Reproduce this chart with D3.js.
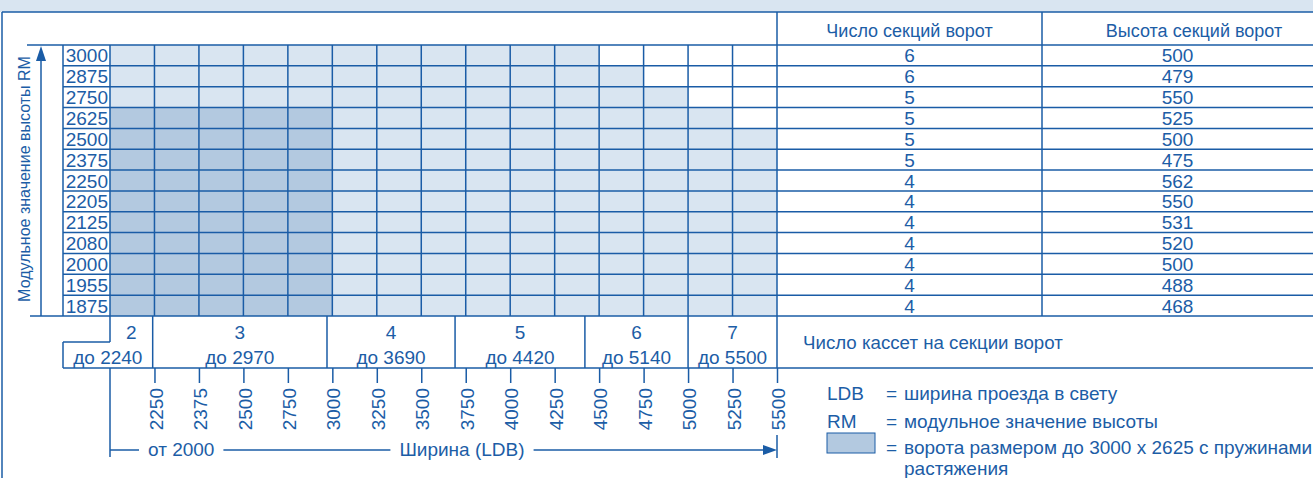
<!DOCTYPE html>
<html>
<head>
<meta charset="utf-8">
<script src="https://cdn.jsdelivr.net/npm/d3@7"></script>
<style>
  html, body { margin: 0; padding: 0; background: #fff; }
  svg text { font-family: Arial, "Liberation Sans", sans-serif; fill: #1c5da6; }
</style>
</head>
<body>
<div id="chart"></div>
<script>
// RM values (rows, top to bottom)
const heights = [3000, 2875, 2750, 2625, 2500, 2375, 2250, 2205, 2125, 2080, 2000, 1955, 1875];
// largest LDB available for every row
const maxWidth = [4500, 4750, 5000, 5250, 5500, 5500, 5500, 5500, 5500, 5500, 5500, 5500, 5500];
const sectionCount = [6, 6, 5, 5, 5, 5, 4, 4, 4, 4, 4, 4, 4];
const sectionHeight = [500, 479, 550, 525, 500, 475, 562, 550, 531, 520, 500, 488, 468];
// column edges (LDB)
const widthTicks = [2000, 2250, 2375, 2500, 2750, 3000, 3250, 3500, 3750, 4000, 4250, 4500, 4750, 5000, 5250, 5500];
const cassettes = [2, 3, 4, 5, 6, 7];
const cassetteLimits = [2240, 2970, 3690, 4420, 5140, 5500];
const cassetteBounds = [2000, 2240, 2970, 3690, 4420, 5000, 5500];
const springW = 3000, springH = 2625;
const tableHeaders = ["Число секций ворот", "Высота секций ворот"];
const legendKeys = ["LDB", "RM"];
const legendTexts = ["ширина проезда в свету", "модульное значение высоты",
  "ворота размером до 3000 х 2625 с пружинами", "растяжения"];

const W = 1313, H = 478;
const blue = "#1a5ca6", light = "#d9e5f1", dark = "#b3c9e0";
const gx0 = 110, gx1 = 777, gy0 = 45, gy1 = 316;
const labelLeft = 63, tableMid = 1042;
const cy1 = 368, cyMid = 342;
const numSize = 19, textSize = 18, legendSize = 19;

const svg = d3.select("#chart").append("svg")
  .attr("width", W).attr("height", H);

function line(x1, y1, x2, y2, w) {
  svg.append("line")
    .attr("x1", x1).attr("y1", y1).attr("x2", x2).attr("y2", y2)
    .attr("stroke", blue).attr("stroke-width", w || 1.5);
}

// top band + frame
svg.append("rect").attr("x", 0).attr("y", 0).attr("width", W).attr("height", 12).attr("fill", light);
line(2, 12, W, 12);
line(2, 12, 2, H);

const colW = (gx1 - gx0) / (widthTicks.length - 1);
const x = d3.scaleLinear()
  .domain(widthTicks)
  .range(widthTicks.map((d, i) => gx0 + i * colW));
const y = d3.scaleBand().domain(heights).range([gy0, gy1]);

// cells
const cells = [];
heights.forEach((h, r) => {
  widthTicks.slice(1).forEach((w, i) => {
    if (w <= maxWidth[r]) cells.push({ h: h, w0: widthTicks[i], w: w });
  });
});
svg.append("g").selectAll("rect")
  .data(cells)
  .enter().append("rect")
  .attr("x", d => x(d.w0))
  .attr("y", d => y(d.h))
  .attr("width", d => x(d.w) - x(d.w0))
  .attr("height", y.bandwidth())
  .attr("fill", d => (d.w <= springW && d.h <= springH) ? dark : light);

// horizontal grid lines
for (let i = 0; i <= heights.length; i++) {
  const yy = gy0 + i * y.bandwidth();
  const left = i === 0 ? 27 : (i === heights.length ? 30 : labelLeft);
  line(left, yy, W, yy);
}
// vertical grid lines
widthTicks.forEach((w, i) => {
  if (i === 0) line(x(w), gy0, x(w), cyMid);
  else if (i === widthTicks.length - 1) line(x(w), 12, x(w), cy1);
  else line(x(w), gy0, x(w), gy1);
});
line(labelLeft, gy0, labelLeft, gy1);
line(tableMid, 12, tableMid, gy1);

// row labels
svg.append("g").selectAll("text")
  .data(heights)
  .enter().append("text")
  .attr("x", gx0 - 2)
  .attr("y", d => y(d) + y.bandwidth() / 2 + 7)
  .attr("text-anchor", "end")
  .attr("font-size", numSize)
  .text(d => d);

// y axis arrow + title
line(41, 60, 41, gy1);
svg.append("path").attr("d", "M41,46 L36,61 L46,61 Z").attr("fill", blue);
svg.append("text")
  .attr("transform", "translate(30,179) rotate(-90)")
  .attr("text-anchor", "middle")
  .attr("font-size", 16)
  .text("Модульное значение высоты RM");

// right table
const c1 = (gx1 + tableMid) / 2, c2 = (tableMid + W) / 2;
svg.append("text").attr("x", c1).attr("y", 37).attr("text-anchor", "middle")
  .attr("font-size", textSize).text(tableHeaders[0]);
svg.append("text").attr("x", 1194).attr("y", 37).attr("text-anchor", "middle")
  .attr("font-size", textSize).text(tableHeaders[1]);
svg.append("g").selectAll("text")
  .data(sectionCount)
  .enter().append("text")
  .attr("x", c1)
  .attr("y", (d, i) => y(heights[i]) + y.bandwidth() / 2 + 7)
  .attr("text-anchor", "middle")
  .attr("font-size", numSize)
  .text(d => d);
svg.append("g").selectAll("text")
  .data(sectionHeight)
  .enter().append("text")
  .attr("x", c2)
  .attr("y", (d, i) => y(heights[i]) + y.bandwidth() / 2 + 7)
  .attr("text-anchor", "middle")
  .attr("font-size", numSize)
  .text(d => d);

// cassette rows
cassetteBounds.slice(1, -1).forEach(b => line(x(b), gy1, x(b), cy1));
line(labelLeft, cyMid, gx0, cyMid);
line(labelLeft, cyMid, labelLeft, cy1);
line(labelLeft, cy1, W, cy1);
cassettes.forEach((c, i) => {
  const a = x(cassetteBounds[i]), b = x(cassetteBounds[i + 1]);
  svg.append("text").attr("x", (a + b) / 2).attr("y", 339)
    .attr("text-anchor", "middle").attr("font-size", numSize).text(c);
  const a2 = i === 0 ? labelLeft : a;
  svg.append("text").attr("x", (a2 + b) / 2).attr("y", 364)
    .attr("text-anchor", "middle").attr("font-size", numSize).text("до " + cassetteLimits[i]);
});
svg.append("text").attr("x", 803).attr("y", 349).attr("font-size", 18.7)
  .text("Число кассет на секции ворот");

// width axis ticks
const ax = svg.append("g")
  .attr("transform", "translate(0," + cy1 + ")")
  .call(d3.axisBottom(x).tickValues(widthTicks.slice(1)).tickSize(15).tickFormat(d3.format("d")))
  .attr("font-size", numSize);
ax.select(".domain").remove();
ax.selectAll(".tick line").attr("stroke", blue).attr("stroke-width", 1.5);
ax.selectAll(".tick text")
  .attr("transform", "rotate(-90)")
  .attr("x", -20).attr("y", 0).attr("dy", "0.4em")
  .attr("text-anchor", "end");

// width arrow
const ay = 450;
line(gx0, cy1, gx0, 457);
line(x(5500), 435, x(5500), 458);
line(gx0, ay, x(5500) - 12, ay);
svg.append("path")
  .attr("d", `M${x(5500)},${ay} L${x(5500) - 14},${ay - 5} L${x(5500) - 14},${ay + 5} Z`)
  .attr("fill", blue);
function gapText(tx, txt, anchor) {
  const t = svg.append("text").attr("x", tx).attr("y", ay + 6)
    .attr("text-anchor", anchor).attr("font-size", numSize).text(txt);
  const bb = t.node().getBBox();
  svg.insert("rect", function () { return t.node(); })
    .attr("x", bb.x - 9).attr("y", ay - 3).attr("width", bb.width + 18).attr("height", 6)
    .attr("fill", "#fff");
}
gapText(148, "от 2000", "start");
gapText(462, "Ширина (LDB)", "middle");

// legend
const lx = 827, ex = 886, tx = 904;
const rows = [400, 428, 454];
legendKeys.forEach((k, i) => {
  svg.append("text").attr("x", lx).attr("y", rows[i]).attr("font-size", legendSize).text(k);
});
svg.append("rect").attr("x", lx).attr("y", 433).attr("width", 48).attr("height", 20)
  .attr("fill", dark).attr("stroke", blue).attr("stroke-width", 1);
rows.forEach(r => {
  svg.append("text").attr("x", ex).attr("y", r).attr("font-size", legendSize).text("=");
});
legendTexts.forEach((t, i) => {
  svg.append("text").attr("x", tx).attr("y", i < 3 ? rows[i] : 475).attr("font-size", legendSize).text(t);
});
</script>
</body>
</html>
